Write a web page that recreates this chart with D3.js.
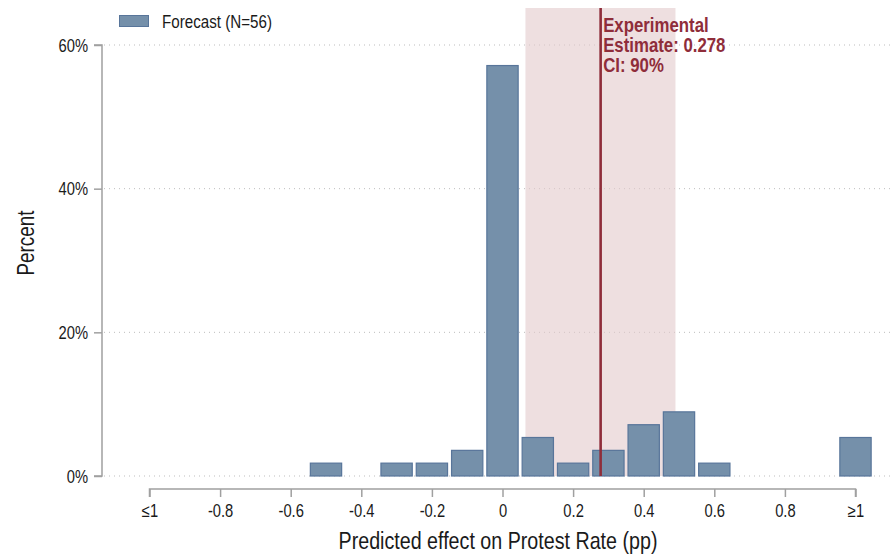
<!DOCTYPE html>
<html>
<head>
<meta charset="utf-8">
<script src="https://cdn.jsdelivr.net/npm/d3@7"></script>
<style>
  html, body { margin: 0; padding: 0; background: #fff; }
  svg text { font-family: "Liberation Sans", Arial, Helvetica, sans-serif; }
</style>
</head>
<body>
<svg id="chart" width="892" height="554"></svg>
<script>
// Histogram of forecasted effects (share of forecasters per bin)
const binCenters = [-0.5, -0.3, -0.2, -0.1, 0, 0.1, 0.2, 0.3, 0.4, 0.5, 0.6, 1.0];
const binPercent = [1.79, 1.79, 1.79, 3.57, 57.14, 5.36, 1.79, 3.57, 7.14, 8.93, 1.79, 5.36];
const binWidth = 0.1;

// Experimental estimate and its 90% confidence interval
const estimate = 0.278;
const ciBounds = [0.065, 0.49];

const xTicks = [-1, -0.8, -0.6, -0.4, -0.2, 0, 0.2, 0.4, 0.6, 0.8, 1];
const xTickLabels = ["≤1", "-0.8", "-0.6", "-0.4", "-0.2", "0", "0.2", "0.4", "0.6", "0.8", "≥1"];
const yTicks = [0, 20, 40, 60];

const legendLabel = "Forecast (N=56)";
const estimateLines = ["Experimental", "Estimate: 0.278", "CI: 90%"];
const xTitle = "Predicted effect on Protest Rate (pp)";
const yTitle = "Percent";

// Condensed lettering: regular sans squeezed horizontally
const NARROW = 0.82;

const svg = d3.select("#chart");
const x = d3.scaleLinear().domain([-1, 1]).range([149.5, 855.5]);
const y = d3.scaleLinear().domain([0, 60]).range([476, 45]);
const plotLeft = 104, plotRight = 890;

const barFill = "#7590aa", barStroke = "#58759a";
const red = "#8f2d3a";
const axisGrey = "#a0a0a0";

function narrowText(parent, px, py, str, size, opts = {}) {
  const t = parent.append("text")
    .attr("transform", `translate(${px},${py})${opts.rotate ? ` rotate(${opts.rotate})` : ""} scale(${NARROW},1)`)
    .attr("font-size", size)
    .attr("fill", opts.fill || "#1a1a1a")
    .attr("text-anchor", opts.anchor || "start")
    .text(str);
  if (opts.bold) t.attr("font-weight", "bold");
  return t;
}

// Gridlines
svg.append("g").selectAll("line").data(yTicks).join("line")
  .attr("x1", plotLeft).attr("x2", plotRight)
  .attr("y1", d => y(d)).attr("y2", d => y(d))
  .attr("stroke", "#bdbdbd").attr("stroke-width", 1)
  .attr("stroke-dasharray", "1,4");

// Confidence interval band
svg.append("rect")
  .attr("x", x(ciBounds[0])).attr("width", x(ciBounds[1]) - x(ciBounds[0]))
  .attr("y", 8).attr("height", y(0) - 8)
  .attr("fill", "#e3c9cc").attr("fill-opacity", 0.6);

// Bars
const bw = x(binWidth) - x(0);
svg.append("g").selectAll("rect").data(binCenters).join("rect")
  .attr("x", d => x(d) - bw / 2 + 2)
  .attr("width", bw - 4)
  .attr("y", (d, i) => y(binPercent[i]))
  .attr("height", (d, i) => y(0) - y(binPercent[i]))
  .attr("fill", barFill).attr("stroke", barStroke).attr("stroke-width", 1.2);

// Estimate line and its label
svg.append("line")
  .attr("x1", x(estimate)).attr("x2", x(estimate))
  .attr("y1", 8).attr("y2", y(0))
  .attr("stroke", red).attr("stroke-width", 2.6);

const estG = svg.append("g");
estimateLines.forEach((s, i) => {
  narrowText(estG, x(estimate) + 2.5, 31.5 + i * 20, s, 20.5, { fill: red, bold: true });
});

// Y axis
const yAxis = d3.axisLeft(y).tickValues(yTicks).tickFormat(d => d + "%").tickSize(8).tickPadding(6);
const gy = svg.append("g").attr("transform", "translate(102,0)").call(yAxis);
gy.select(".domain").attr("stroke", axisGrey).attr("stroke-width", 1.5).attr("d", `M-8,${y(60)}H0V${y(0)}H-8`);
gy.selectAll(".tick line").attr("stroke", axisGrey).attr("stroke-width", 1.5);
gy.selectAll(".tick text")
  .attr("font-size", 18).attr("fill", "#1a1a1a")
  .attr("x", -14 / NARROW).attr("dy", "0.35em")
  .attr("transform", `scale(${NARROW},1)`);

// X axis
const xAxis = d3.axisBottom(x).tickValues(xTicks).tickFormat((d, i) => xTickLabels[i]).tickSize(8).tickPadding(6);
const gx = svg.append("g").attr("transform", "translate(0,489)").call(xAxis);
gx.select(".domain").attr("stroke", axisGrey).attr("stroke-width", 1.5).attr("d", `M${x(-1)},8V0H${x(1)}V8`);
gx.selectAll(".tick line").attr("stroke", axisGrey).attr("stroke-width", 1.5);
gx.selectAll(".tick text")
  .attr("font-size", 18).attr("fill", "#1a1a1a")
  .attr("y", 28).attr("dy", 0)
  .attr("transform", `scale(${NARROW},1)`);

// Axis titles
narrowText(svg, 498, 548.5, xTitle, 24, { anchor: "middle" });
narrowText(svg, 34, 243, yTitle, 23, { anchor: "middle", rotate: -90 });

// Legend
svg.append("rect").attr("x", 119.5).attr("y", 15.5).attr("width", 29).attr("height", 11)
  .attr("fill", barFill).attr("stroke", barStroke).attr("stroke-width", 1);
narrowText(svg, 162, 27.5, legendLabel, 18.5);
</script>
</body>
</html>
